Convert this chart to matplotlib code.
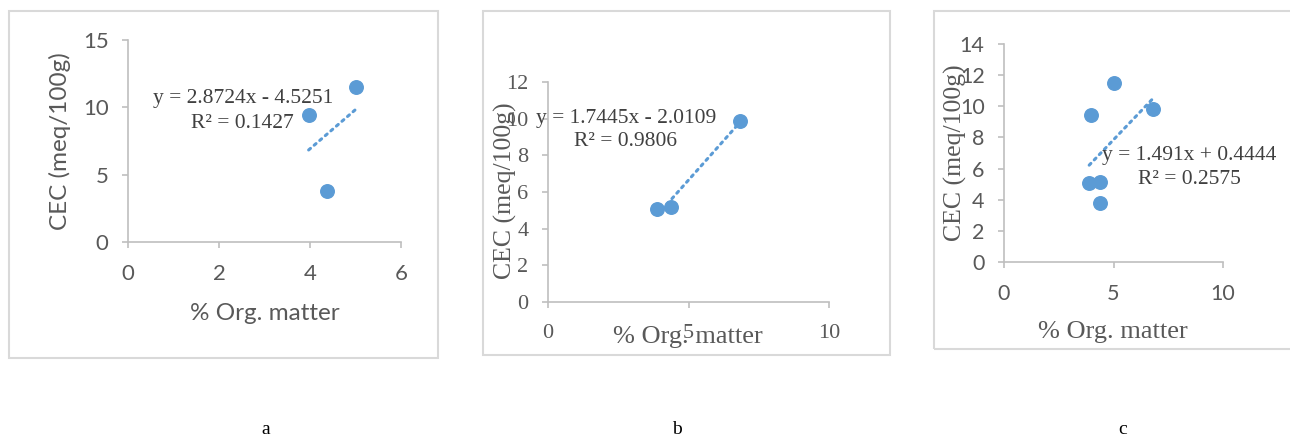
import numpy as np
import matplotlib
matplotlib.use("Agg")
import matplotlib.pyplot as plt
from matplotlib.patches import Rectangle

# ── data ──────────────────────────────────────────────
om_a = [3.97, 5.02, 4.37]
cec_a = [9.45, 11.5, 3.77]
om_b = [3.89, 4.37, 6.82]
cec_b = [5.08, 5.16, 9.85]
om_c = om_a + om_b
cec_c = cec_a + cec_b

eq_a = ["y = 2.8724x - 4.5251", "R² = 0.1427"]
eq_b = ["y = 1.7445x - 2.0109", "R² = 0.9806"]
eq_c = ["y = 1.491x + 0.4444", "R² = 0.2575"]

xticks_a = [0, 2, 4, 6]
yticks_a = [0, 5, 10, 15]
xticks_b = [0, 5, 10]
yticks_b = [0, 2, 4, 6, 8, 10, 12]
xticks_c = [0, 5, 10]
yticks_c = [0, 2, 4, 6, 8, 10, 12, 14]

W, H = 1290, 437
BLUE = "#5b9bd5"
GRID = "#bfbfbf"
TXT = "#595959"
SANS = ["Lato", "DejaVu Sans"]
SERIF = ["Liberation Serif", "DejaVu Serif"]

fig = plt.figure(figsize=(W / 100, H / 100), dpi=100, facecolor="white")


def fx(px):
    return px / W


def fy(py):
    return 1 - py / H


def make_axes(l, r, t, b):
    return fig.add_axes([fx(l), fy(b), fx(r - l), (b - t) / H])


def style_axes(ax, xt, yt, tick_font, tick_size):
    for s in ["top", "right"]:
        ax.spines[s].set_visible(False)
    for s in ["left", "bottom"]:
        ax.spines[s].set_color(GRID)
        ax.spines[s].set_linewidth(1.2)
    ax.set_xticks(xt)
    ax.set_yticks(yt)
    ax.set_xlim(xt[0], xt[-1])
    ax.set_ylim(yt[0], yt[-1])
    ax.tick_params(direction="out", length=4, width=1.2, color=GRID,
                   labelcolor=TXT, labelsize=tick_size)
    ax.tick_params(axis="x", pad=12)
    ax.tick_params(axis="y", pad=10)
    for lab in ax.get_xticklabels() + ax.get_yticklabels():
        lab.set_family(tick_font)
    ax.patch.set_alpha(0)


def draw_points(ax, x, y):
    x = np.array(x)
    y = np.array(y)
    k, c0 = np.polyfit(x, y, 1)
    xs = np.array([x.min(), x.max()])
    ax.plot(xs, k * xs + c0, color=BLUE, lw=2.2, ls=(0, (0.8, 1.6)),
            dash_capstyle="round", zorder=2)
    ax.scatter(x, y, s=95, color=BLUE, zorder=3, clip_on=False)


def fig_text(px, py, s, family, size, color=TXT, rot=0, ha="center"):
    fig.text(fx(px), fy(py), s, family=family, fontsize=size, color=color,
             rotation=rot, ha=ha, va="center")


# panel frames
for (l, r, t, b) in [(9, 438, 11, 358), (483, 890, 11, 355), (934, 1300, 11, 349)]:
    fig.patches.append(Rectangle((fx(l), fy(b)), fx(r - l), (b - t) / H,
                                 transform=fig.transFigure, fill=False,
                                 edgecolor="#d9d9d9", linewidth=1.5))

# ── a ─────────────────────────────────────────────────
ax_a = make_axes(128, 401, 40, 242)
style_axes(ax_a, xticks_a, yticks_a, SANS, 16)
draw_points(ax_a, om_a, cec_a)
fig_text(60, 141, "CEC (meq/100g)", SANS, 17.5, rot=90)
fig_text(265, 313, "% Org. matter", SANS, 17.5)
fig_text(243, 99, eq_a[0], SERIF, 15.5, color="#404040")
fig_text(242, 124, eq_a[1], SERIF, 15.5, color="#404040")

# ── b ─────────────────────────────────────────────────
ax_b = make_axes(548, 829, 82, 302)
style_axes(ax_b, xticks_b, yticks_b, SERIF, 16)
draw_points(ax_b, om_b, cec_b)
fig_text(505, 191, "CEC (meq/100g)", SERIF, 18.5, rot=90)
fig_text(688, 337, "% Org. matter", SERIF, 19)
fig_text(626, 118, eq_b[0], SERIF, 15.5, color="#404040")
fig_text(625, 142, eq_b[1], SERIF, 15.5, color="#404040")

# ── c ─────────────────────────────────────────────────
ax_c = make_axes(1004, 1223, 44, 262)
style_axes(ax_c, xticks_c, yticks_c, SANS, 15.5)
draw_points(ax_c, om_c, cec_c)
fig_text(955, 153, "CEC (meq/100g)", SERIF, 18.5, rot=90)
fig_text(1113, 332, "% Org. matter", SERIF, 19)
fig_text(1189, 155, eq_c[0], SERIF, 15.5, color="#404040")
fig_text(1189, 180, eq_c[1], SERIF, 15.5, color="#404040")

# captions
for px, s in [(266, "a"), (677, "b"), (1123, "c")]:
    fig_text(px, 430, s, SERIF, 14, color="black")

fig.savefig("out.png", dpi=100, facecolor="white")
